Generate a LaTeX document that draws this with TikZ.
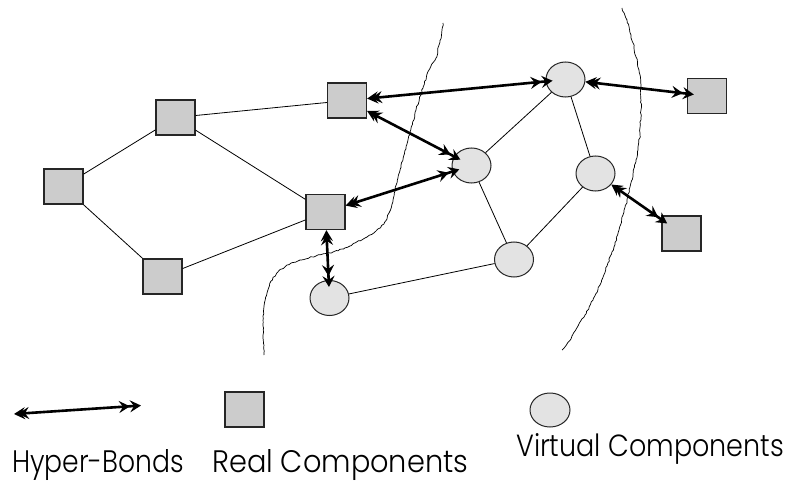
\documentclass[tikz,border=0pt]{standalone}
\usepackage{fontspec}
\setmainfont{Poppins}[UprightFont={* Light}]
\usetikzlibrary{arrows.meta,decorations.pathmorphing,shapes.geometric}
\definecolor{realgray}{HTML}{CCCCCC}
\definecolor{virtgray}{HTML}{E3E3E3}
\tikzset{
  realc/.style={draw=black!85, line width=1.2pt, fill=realgray, rectangle, minimum width=39pt, minimum height=35pt, inner sep=0pt},
  virtc/.style={draw=black!85, line width=1pt, fill=virtgray, ellipse, minimum width=39pt, minimum height=35pt, inner sep=0pt},
  link/.style={line width=0.8pt},
  hyper/.style={line width=2.6pt, {Stealth[length=11pt,width=12pt,inset=4pt]Stealth[length=11pt,width=12pt,inset=4pt,sep=-7pt]}-{Stealth[length=11pt,width=12pt,inset=4pt]Stealth[length=11pt,width=12pt,inset=4pt,sep=-7pt]}},
  boundary/.style={line width=0.7pt, line join=round, decorate, decoration={random steps, segment length=2.5pt, amplitude=0.7pt}},
  legendtext/.style={anchor=base west, inner sep=0pt, font=\fontsize{30}{36}\selectfont}
}
\begin{document}
\begin{tikzpicture}[x=1pt,y=-1pt]
\useasboundingbox (0,0) rectangle (790,484);
% boundaries
\draw[boundary] (443,23) -- (440,42) -- (436,58) -- (429,70) -- (423,88) -- (416,110) -- (410,132) -- (404,155) -- (398,178) -- (393,200) -- (389,213) -- (384,224) -- (376,231) -- (367,237) -- (350,246) -- (333,252) -- (316,256) -- (300,260) -- (287,265) -- (278,272) -- (271,281) -- (267,293) -- (264,306) -- (263,320) -- (263,338) -- (264,355);
\draw[boundary] (622,8) -- (627,20) -- (631,35) -- (634,47) -- (636,57) -- (639,70) -- (641,85) -- (641,110) -- (640,135) -- (638,150) -- (636,160) -- (633,174) -- (630,187) -- (627,200) -- (624,212) -- (619,230) -- (614,247) -- (607,266) -- (600,285) -- (593,300) -- (585,315) -- (578,326) -- (572,336) -- (567,344) -- (562,350);
% nodes
\node[realc] (r1) at (63.5,186.5) {};
\node[realc] (r2) at (175.5,117.5) {};
\node[realc] (r3) at (347,100.5) {};
\node[realc] (r4) at (325.5,212) {};
\node[realc] (r5) at (162.5,276.5) {};
\node[realc] (r6) at (707,96) {};
\node[realc] (r7) at (681.5,233.5) {};
\node[virtc] (v1) at (565.5,79.5) {};
\node[virtc] (v2) at (471.5,165.5) {};
\node[virtc] (v3) at (595.5,173.5) {};
\node[virtc] (v4) at (514,259.5) {};
\node[virtc] (v5) at (329.5,298) {};
% links
\draw[link] (r1) -- (r2);
\draw[link] (r1) -- (r5);
\draw[link] (r2) -- (r3);
\draw[link] (r2) -- (r4);
\draw[link] (r4) -- (r5);
\draw[link] (v5) -- (v4);
\draw[link] (v2) -- (v1);
\draw[link] (v2) -- (v4);
\draw[link] (v1) -- (v3);
\draw[link] (v3) -- (v4);
% hyper-bonds
\draw[hyper] (r3) -- (v1);
\draw[hyper] (r3) -- (v2);
\draw[hyper] (r4) -- (v2);
\draw[hyper] (r4) -- (v5);
\draw[hyper] (v1) -- (r6);
\draw[hyper] (v3) -- (r7);
% legend
\coordinate (la) at (14,414);
\coordinate (lb) at (134,406);
\draw[hyper] (la) -- (lb);
\node[realc] (lr) at (244.5,409.5) {};
\node[virtc, minimum width=40pt, minimum height=34pt] (lv) at (550,410) {};
\node[legendtext] (t1) at (12,472) {\resizebox{172pt}{23pt}{Hyper-Bonds}};
\node[legendtext] (t2) at (212,472) {\resizebox{256pt}{23pt}{Real Components}};
\node[legendtext] (t3) at (516,456) {\resizebox{268pt}{23pt}{Virtual Components}};
\end{tikzpicture}
\end{document}
